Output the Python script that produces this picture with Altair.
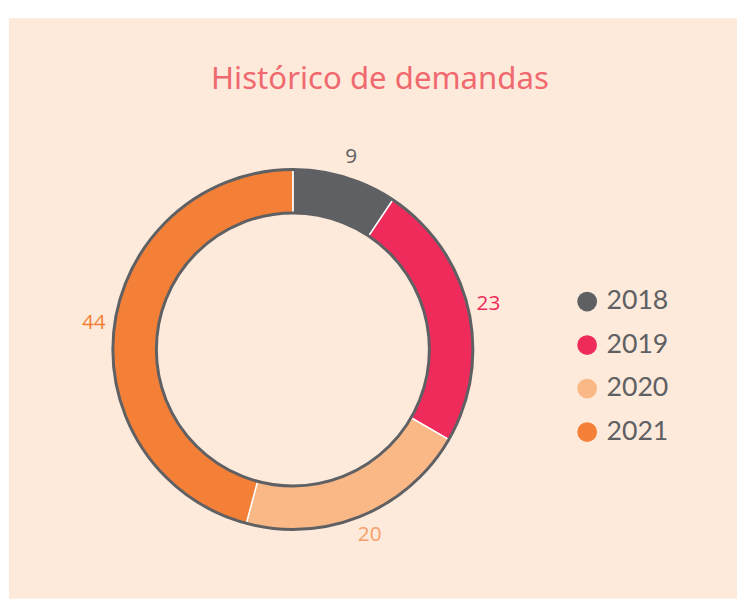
import altair as alt
import pandas as pd
import math

title_text = "Histórico de demandas"
years = ["2018", "2019", "2020", "2021"]
values = [9, 23, 20, 44]
fill_colors = ["#5f6063", "#ee2b5b", "#fbb887", "#f47f36"]
label_colors = ["#5f6063", "#ee2b5b", "#f8a06a", "#f47f36"]

df = pd.DataFrame({"year": years, "value": values, "label_color": label_colors})

W, H = 737, 494
CX, CY = 288, 242
R_OUT, R_IN = 182, 138
PEACH = "#fdeadb"
GREY = "#5f6063"

color_scale = alt.Scale(domain=years, range=fill_colors)

bg = alt.Chart(pd.DataFrame({"a": [0]})).mark_rect(color=PEACH).encode(
    x=alt.value(1), x2=alt.value(W), y=alt.value(-93), y2=alt.value(H)
)

title = alt.Chart(pd.DataFrame({"t": [title_text]})).mark_text(
    font="Noto Sans", fontSize=31.5, color="#f0696f", align="center", baseline="alphabetic"
).encode(text="t:N", x=alt.value(376), y=alt.value(-21))

arcs = alt.Chart(df).mark_arc(
    innerRadius=R_IN, outerRadius=R_OUT, stroke="white", strokeWidth=1.5
).encode(
    theta=alt.Theta("value:Q", stack=True),
    color=alt.Color(
        "year:N", scale=color_scale, sort=years,
        legend=alt.Legend(
            title=None, orient="none", legendX=572, legendY=180,
            symbolType="circle", symbolSize=400, symbolStrokeWidth=0,
            labelFont="Lato", labelFontSize=27, labelColor=GREY,
            rowPadding=16, labelOffset=6,
        ),
    ),
    order=alt.Order("year:N"),
    x=alt.value(CX), y=alt.value(CY),
)

outline = alt.Chart(pd.DataFrame({"a": [0]})).mark_arc(
    innerRadius=R_IN, outerRadius=R_OUT, theta=0, theta2=2 * math.pi,
    fillOpacity=0, stroke=GREY, strokeWidth=3,
).encode(x=alt.value(CX), y=alt.value(CY))

labels = alt.Chart(df).mark_text(
    font="Open Sans", fontSize=21
).encode(
    theta=alt.Theta("value:Q", stack=True),
    order=alt.Order("year:N"),
    radius=alt.value(203),
    text=alt.Text("value:Q"),
    color=alt.Color("label_color:N", scale=None),
    x=alt.value(CX), y=alt.value(CY),
)

chart = alt.layer(bg, title, arcs, outline, labels).properties(
    width=W, height=H,
    autosize=alt.AutoSizeParams(type="none"),
    padding={"left": 0, "top": 100, "right": 0, "bottom": 0},
    background="white",
).configure_view(stroke=None, fill=None)

chart.save("out.html", embed_options={"renderer": "svg", "actions": False})
